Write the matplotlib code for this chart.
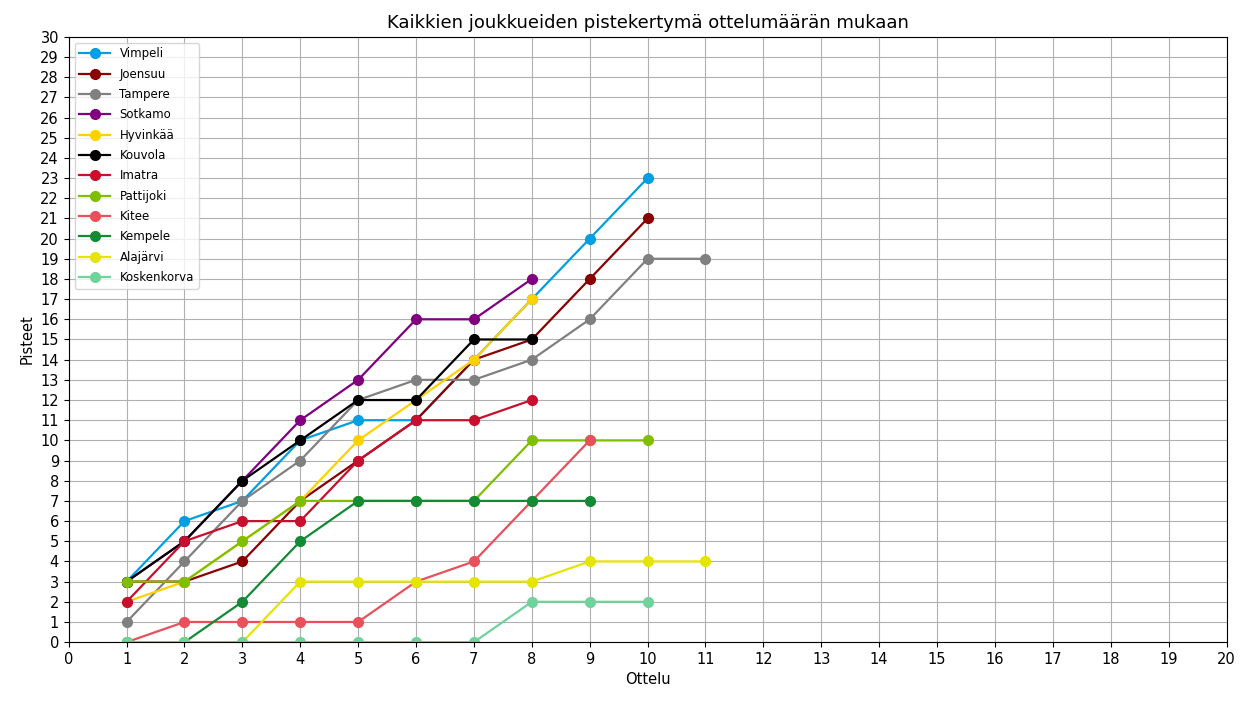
import matplotlib.pyplot as plt

teams = ["Vimpeli", "Joensuu", "Tampere", "Sotkamo", "Hyvinkää", "Kouvola",
         "Imatra", "Pattijoki", "Kitee", "Kempele", "Alajärvi", "Koskenkorva"]
points = [
    [3, 6, 7, 10, 11, 11, 14, 17, 20, 23],
    [3, 3, 4, 7, 9, 11, 14, 15, 18, 21],
    [1, 4, 7, 9, 12, 13, 13, 14, 16, 19, 19],
    [3, 5, 8, 11, 13, 16, 16, 18],
    [2, 3, 5, 7, 10, 12, 14, 17],
    [3, 5, 8, 10, 12, 12, 15, 15],
    [2, 5, 6, 6, 9, 11, 11, 12],
    [3, 3, 5, 7, 7, 7, 7, 10, 10, 10],
    [0, 1, 1, 1, 1, 3, 4, 7, 10],
    [0, 0, 2, 5, 7, 7, 7, 7, 7],
    [0, 0, 0, 3, 3, 3, 3, 3, 4, 4, 4],
    [0, 0, 0, 0, 0, 0, 0, 2, 2, 2],
]
colors = ["#009FE3", "#8B0000", "#808080", "#800080", "#FFD100", "#000000",
          "#C8102E", "#7FBF00", "#E8505B", "#128A36", "#E5E500", "#6FD39B"]

fig, ax = plt.subplots(figsize=(12.49, 7.08), dpi=100)
for team, ys, c in zip(teams, points, colors):
    xs = list(range(1, len(ys) + 1))
    ax.plot(xs, ys, marker="o", markersize=7, linewidth=1.6, color=c, label=team)

ax.set_xlim(0, 20)
ax.set_ylim(0, 30)
ax.set_xticks(range(0, 21))
ax.set_yticks(range(0, 31))
ax.tick_params(labelsize=10.5)
ax.grid(True, color="#b0b0b0")
ax.set_xlabel("Ottelu", fontsize=10.5)
ax.set_ylabel("Pisteet", fontsize=10.5)
ax.set_title("Kaikkien joukkueiden pistekertymä ottelumäärän mukaan", fontsize=13)
ax.legend(loc="upper left", fontsize=8.5, handlelength=2.6, labelspacing=0.62)
fig.subplots_adjust(left=0.055, right=0.982, top=0.948, bottom=0.093)
fig.savefig("out.png")
